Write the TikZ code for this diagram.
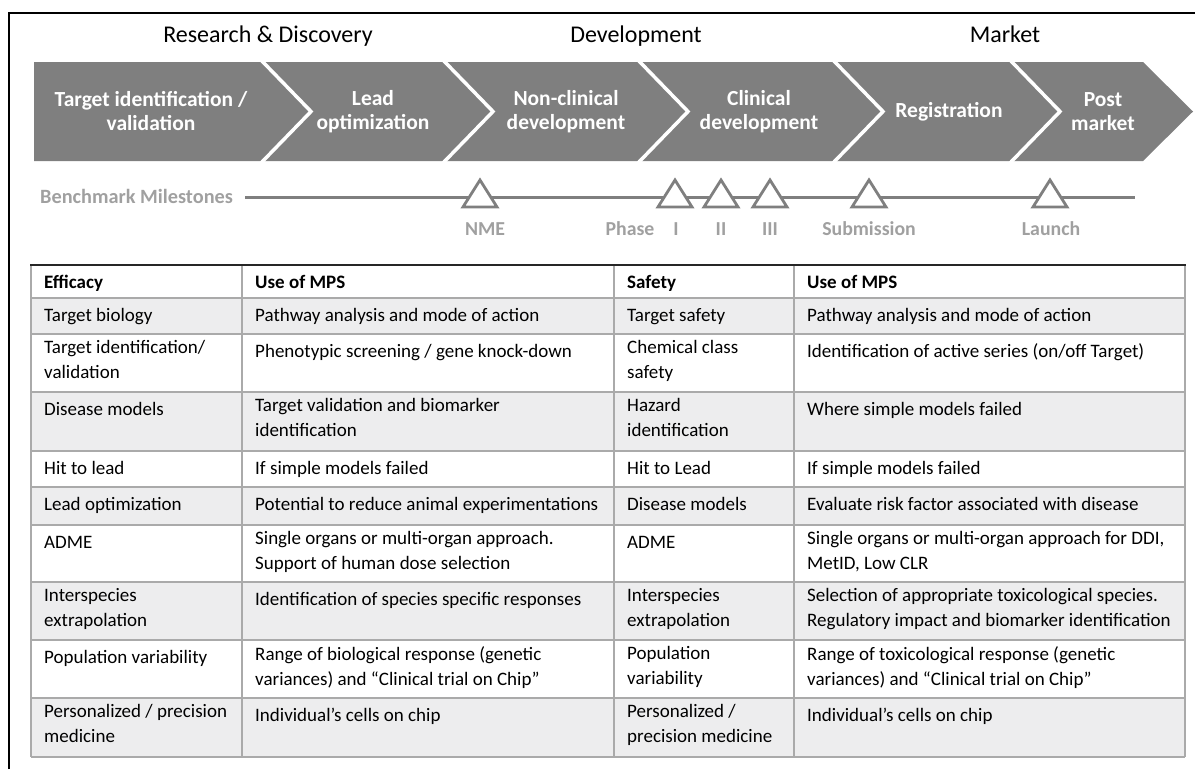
\documentclass[tikz,border=0pt]{standalone}
\usepackage{fontspec}
\setmainfont{Carlito}
\usepackage{xcolor}
\usetikzlibrary{positioning}
\definecolor{chevgray}{RGB}{127,127,127}
\definecolor{milegray}{RGB}{160,160,160}
\definecolor{rowgray}{RGB}{237,237,238}
\definecolor{rulegray}{RGB}{170,170,170}

\tikzset{
    stage/.style={anchor=base, font=\fontsize{24}{28}\selectfont},
    phasetext/.style={text=white, align=center, font=\fontsize{21.5}{24}\selectfont\bfseries},
    milelabel/.style={anchor=base, text=milegray, font=\fontsize{19.8}{23}\selectfont\bfseries},
    marker/.style={draw=chevgray, line width=2.8pt, fill=white, line join=miter},
    rule/.style={rulegray, line width=1.4pt},
    cell/.style={anchor=north west, inner sep=0pt, align=left, font=\fontsize{19}{25}\selectfont, execute at begin node=\strut},
    headcell/.style={cell, font=\fontsize{19}{25}\selectfont\bfseries},
}

\begin{document}
\begin{tikzpicture}[x=1pt, y=-1pt]
    \useasboundingbox (0,0) rectangle (1195,769);
    % frame
    \draw[line width=1.3pt] (9,769) -- (9,13) -- (1195,13);

    % stages
    \node[stage] (research) at (268,42) {Research \& Discovery};
    \node[stage] (develop) at (636,42) {Development};
    \node[stage] (market) at (1005,42) {Market};

    % chevrons
    \fill[chevgray] (34,62) -- (1143,62) -- (1193,111.5) -- (1143,161) -- (34,161) -- cycle;
    \foreach \b in {258,440,635,830,1007}
        \draw[white, line width=3.5pt] (\b+3,60) -- (\b+53,111.5) -- (\b+3,163);
    \node[phasetext] (target) at (151,111.5) {Target identification /\\validation};
    \node[phasetext] (lead) at (373,111.5) {Lead\\optimization};
    \node[phasetext] (nonclin) at (566,111.5) {Non-clinical\\development};
    \node[phasetext] (clin) at (759,111.5) {Clinical\\development};
    \node[phasetext] (regist) at (949,111.5) {Registration};
    \node[phasetext] (post) at (1103,111.5) {Post\\market};

    % milestones
    \node[anchor=base west, inner sep=0pt, text=milegray, font=\fontsize{20.3}{23}\selectfont\bfseries] (bench) at (40,203) {Benchmark Milestones};
    \coordinate (mileend) at (1135,197);
    \draw[chevgray, line width=3pt] (bench.east |- mileend) ++(12,0) -- (mileend);
    \foreach \m in {480,675,721,770,869,1050}
        \draw[marker] (\m-17,207) -- (\m,180) -- (\m+17,207) -- cycle;
    \node[milelabel] (nme) at (485,235) {NME};
    \node[milelabel] (phase) at (630,235) {Phase};
    \node[milelabel] (ph1) at (676,235) {I};
    \node[milelabel] (ph2) at (721,235) {II};
    \node[milelabel] (ph3) at (770,235) {III};
    \node[milelabel] (submit) at (869,235) {Submission};
    \node[milelabel] (launch) at (1051,235) {Launch};

    % table
    \foreach \t/\b in {298/334, 392/451, 487/525, 582/640, 698/757}
        \fill[rowgray] (31,\t) rectangle (1185,\b);
    \foreach \t in {298,334,392,451,487,525,582,640,698,757}
        \draw[rule] (31,\t) -- (1185,\t);
    \foreach \x in {31,242,614,794,1185}
        \draw[rule] (\x,265) -- (\x,757);
    \draw[line width=1.8pt, black!85] (30,265) -- (1186,265);

    \node[headcell] (eff-0) at (44,271) {Efficacy};
    \node[headcell] (effuse-0) at (255,271) {Use of MPS};
    \node[headcell] (saf-0) at (627,271) {Safety};
    \node[headcell] (safuse-0) at (807,271) {Use of MPS};

    \foreach \t/\ea/\eb/\sa/\sb [count=\r] in {
        298/{Target biology}/{Pathway analysis and mode of action}/{Target safety}/{Pathway analysis and mode of action},
        334/{Target identification/\\validation}/{Phenotypic screening / gene knock-down}/{Chemical class\\safety}/{Identification of active series (on/off Target)},
        392/{Disease models}/{Target validation and biomarker\\identification}/{Hazard\\identification}/{Where simple models failed},
        451/{Hit to lead}/{If simple models failed}/{Hit to Lead}/{If simple models failed},
        487/{Lead optimization}/{Potential to reduce animal experimentations}/{Disease models}/{Evaluate risk factor associated with disease},
        525/{ADME}/{Single organs or multi-organ approach.\\Support of human dose selection}/{ADME}/{Single organs or multi-organ approach for DDI,\\MetID, Low CLR},
        582/{Interspecies\\extrapolation}/{Identification of species specific responses}/{Interspecies\\extrapolation}/{Selection of appropriate toxicological species.\\Regulatory impact and biomarker identification},
        640/{Population variability}/{Range of biological response (genetic\\variances) and “Clinical trial on Chip”}/{Population\\variability}/{Range of toxicological response (genetic\\variances) and “Clinical trial on Chip”},
        698/{Personalized / precision\\medicine}/{Individual’s cells on chip}/{Personalized /\\precision medicine}/{Individual’s cells on chip}
    }{
        \node[cell] (eff-\r) at (44,\t+6) {\ea};
        \node[cell] (effuse-\r) at (255,\t+6) {\eb};
        \node[cell] (saf-\r) at (627,\t+6) {\sa};
        \node[cell] (safuse-\r) at (807,\t+6) {\sb};
    }
\end{tikzpicture}
\end{document}
